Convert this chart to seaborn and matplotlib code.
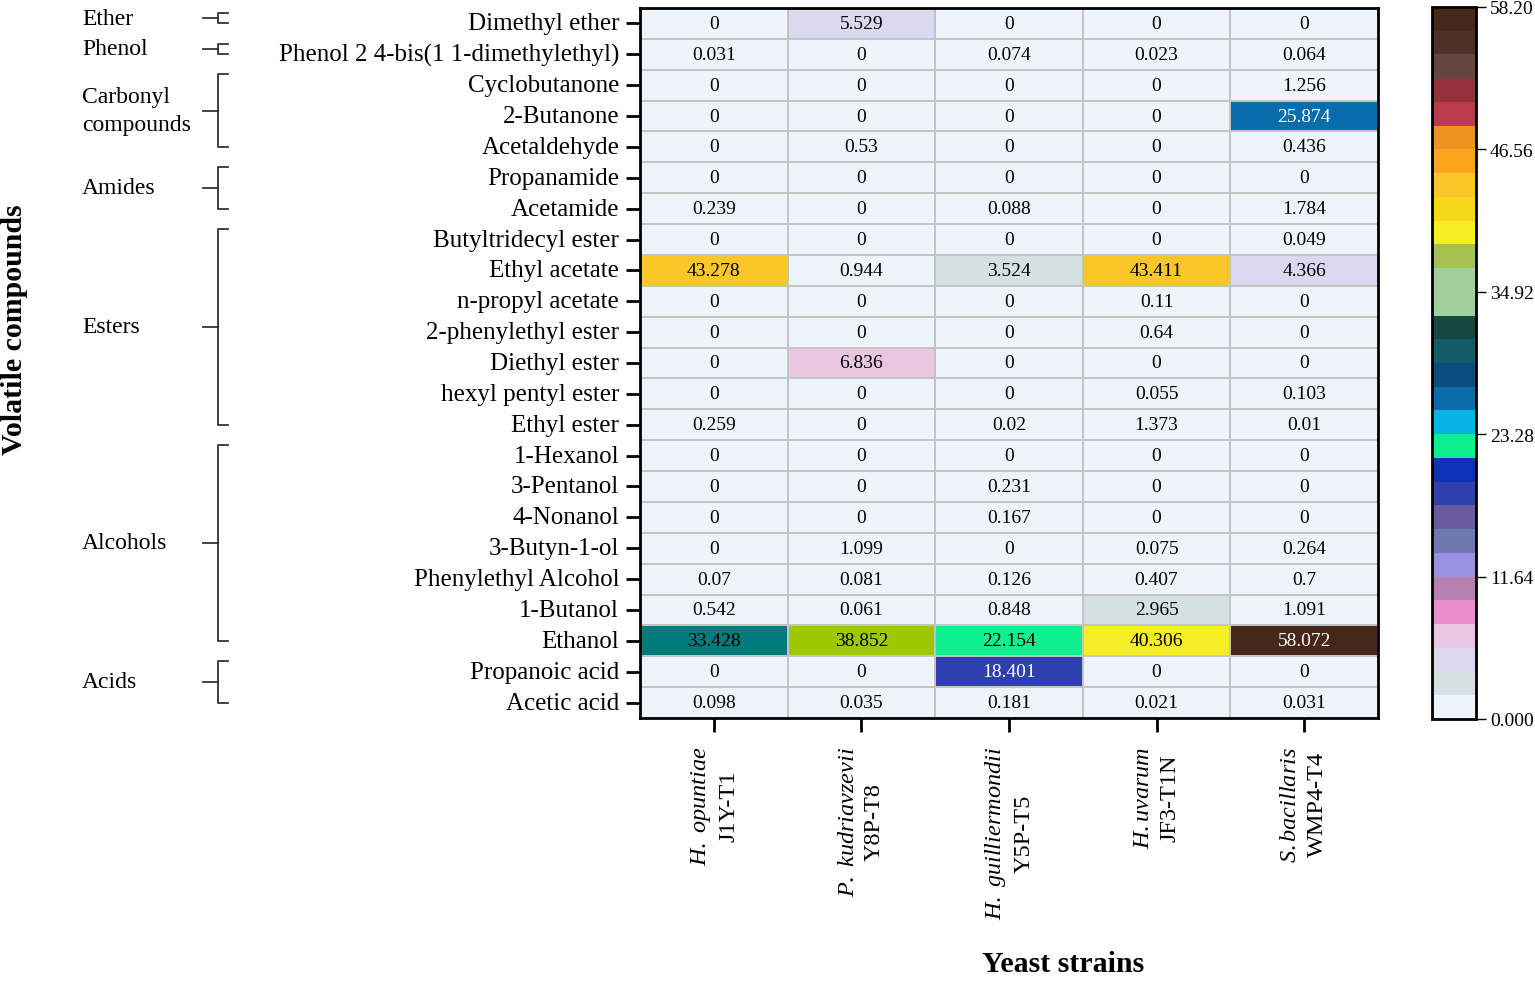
import matplotlib
matplotlib.use("Agg")
import matplotlib.pyplot as plt
import matplotlib.transforms as mtransforms
from matplotlib.colors import ListedColormap, Normalize
from matplotlib.cm import ScalarMappable
import numpy as np
import pandas as pd
import seaborn as sns
from seaborn.utils import relative_luminance

plt.rcParams["font.family"] = ["Liberation Serif", "DejaVu Serif"]
plt.rcParams["mathtext.fontset"] = "custom"
plt.rcParams["mathtext.it"] = "Liberation Serif:italic"
plt.rcParams["mathtext.rm"] = "Liberation Serif"
plt.rcParams["mathtext.bf"] = "Liberation Serif:bold"

# ---- data ----
compounds = ["Dimethyl ether", "Phenol 2 4-bis(1 1-dimethylethyl)", "Cyclobutanone",
             "2-Butanone", "Acetaldehyde", "Propanamide", "Acetamide",
             "Butyltridecyl ester", "Ethyl acetate", "n-propyl acetate",
             "2-phenylethyl ester", "Diethyl ester", "hexyl pentyl ester", "Ethyl ester",
             "1-Hexanol", "3-Pentanol", "4-Nonanol", "3-Butyn-1-ol",
             "Phenylethyl Alcohol", "1-Butanol", "Ethanol", "Propanoic acid", "Acetic acid"]
species = ["H. opuntiae", "P. kudriavzevii", "H. guilliermondii", "H.uvarum", "S.bacillaris"]
strains = ["J1Y-T1", "Y8P-T8", "Y5P-T5", "JF3-T1N", "WMP4-T4"]

j1y_t1 = [0, 0.031, 0, 0, 0, 0, 0.239, 0, 43.278, 0, 0, 0, 0, 0.259,
          0, 0, 0, 0, 0.07, 0.542, 33.428, 0, 0.098]
y8p_t8 = [5.529, 0, 0, 0, 0.53, 0, 0, 0, 0.944, 0, 0, 6.836, 0, 0,
          0, 0, 0, 1.099, 0.081, 0.061, 38.852, 0, 0.035]
y5p_t5 = [0, 0.074, 0, 0, 0, 0, 0.088, 0, 3.524, 0, 0, 0, 0, 0.02,
          0, 0.231, 0.167, 0, 0.126, 0.848, 22.154, 18.401, 0.181]
jf3_t1n = [0, 0.023, 0, 0, 0, 0, 0, 0, 43.411, 0.11, 0.64, 0, 0.055, 1.373,
           0, 0, 0, 0.075, 0.407, 2.965, 40.306, 0, 0.021]
wmp4_t4 = [0, 0.064, 1.256, 25.874, 0.436, 0, 1.784, 0.049, 4.366, 0, 0, 0, 0.103, 0.01,
           0, 0, 0, 0.264, 0.7, 1.091, 58.072, 0, 0.031]

group_names = ["Ether", "Phenol", "Carbonyl\ncompounds", "Amides", "Esters", "Alcohols", "Acids"]
group_sizes = [1, 1, 3, 2, 7, 7, 2]

vmax = 58.2
# colour bands of the scale, low to high
band_colors = ["#edf4fb", "#d5e0e2", "#dcd8f0", "#e9c6e1", "#e88fcb", "#b97fae",
               "#9a8fe0", "#6f78b0", "#6a5a9e", "#2e3fb0", "#1030b8", "#0ef08e",
               "#0ab2ea", "#0a6dab", "#0b4b7e", "#115c66", "#144840", "#a0d09c",
               "#a0d09c", "#a8c050", "#f4ee22", "#f5d81c", "#fbc62a", "#fba41c",
               "#ef9320", "#bb3b48", "#93323a", "#644540", "#4d3028", "#452819"]
# narrow accents used by the original for two cells
accents = [(33.428, "#007a7a"), (38.852, "#9dc700")]

df = pd.DataFrame({s: v for s, v in zip(strains, [j1y_t1, y8p_t8, y5p_t5, jf3_t1n, wmp4_t4])},
                  index=compounds)

# fine colormap: 0.1 wide bins following the bands
nbins = int(round(vmax * 10))
fine = [band_colors[min(int(i * len(band_colors) / nbins), len(band_colors) - 1)] for i in range(nbins)]
for val, col in accents:
    fine[int(val * 10)] = col
cell_cmap = ListedColormap(fine)
band_cmap = ListedColormap(band_colors)

fig = plt.figure(figsize=(15.35, 9.87), dpi=100)
W, H = 1535, 987
ax = fig.add_axes([640 / W, 1 - 719 / H, 738 / W, 710 / H])
cax = fig.add_axes([1432 / W, 1 - 720 / H, 44 / W, 712 / H])

sns.heatmap(df, ax=ax, cmap=cell_cmap, vmin=0, vmax=vmax, annot=True, fmt="g",
            annot_kws={"fontsize": 14}, linewidths=1.2, linecolor="#c4c4c4", cbar=False)

mesh = ax.collections[0]
for txt, fc in zip(ax.texts, mesh.get_facecolors()):
    txt.set_color("black" if relative_luminance(fc) > 0.147 else "white")

for sp in ax.spines.values():
    sp.set_visible(True)
    sp.set_linewidth(2)
    sp.set_color("black")

ax.set_yticklabels(compounds, rotation=0, fontsize=18)
xlabels = []
for sp_name, st in zip(species, strains):
    xlabels.append("$\\mathit{" + sp_name.replace(" ", "\\ ") + "}$\n" + st)
ax.set_xticklabels(xlabels, rotation=90, ha="center", va="top", fontsize=17.5,
                   multialignment="center", linespacing=1.35)
ax.tick_params(axis="both", length=10, width=2, color="black", left=True, bottom=True)
ax.tick_params(axis="y", pad=5)
ax.tick_params(axis="x", pad=10)
ax.set_xlabel("")
ax.set_ylabel("")

# colour bar
norm = Normalize(vmin=0, vmax=vmax)
cb = fig.colorbar(ScalarMappable(norm=norm, cmap=band_cmap), cax=cax)
cticks = np.linspace(0, vmax, 6)
cb.set_ticks(cticks)
cb.set_ticklabels([f"{t:#.4g}" for t in cticks])
cb.outline.set_linewidth(2)
cax.tick_params(length=7, width=1, labelsize=14, pad=3)

# group brackets
trans = mtransforms.blended_transform_factory(fig.transFigure, ax.transData)
xv, xe, xt, xl = 218 / W, 228 / W, 203 / W, 82 / W
start = 0
for name, size in zip(group_names, group_sizes):
    top = start + 0.15
    bot = start + size - 0.5
    mid = (top + bot) / 2
    kw = dict(transform=trans, clip_on=False, color="#333333", lw=1.3)
    ax.plot([xe, xv, xv, xe], [top, top, bot, bot], **kw)
    ax.plot([xt, xv], [mid, mid], **kw)
    ax.text(xl, mid, name, transform=trans, ha="left", va="center", fontsize=17,
            linespacing=1.4)
    start += size

fig.text(15 / W, 1 - 330 / H, "Volatile compounds", rotation=90, fontsize=21.5,
         fontweight="bold", ha="center", va="center")
fig.text(1063 / W, 1 - 965 / H, "Yeast strains", fontsize=21.5, fontweight="bold",
         ha="center", va="center")

fig.savefig("out.png", dpi=100, facecolor="white")
